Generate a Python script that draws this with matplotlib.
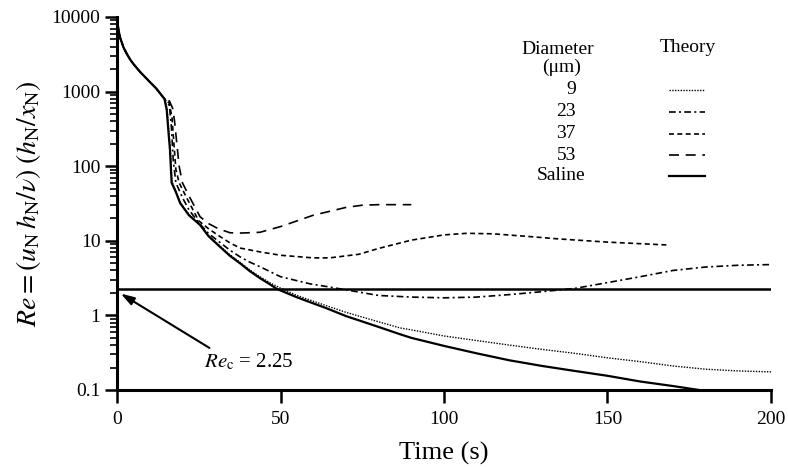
import numpy as np
import matplotlib
matplotlib.use("Agg")
import matplotlib.pyplot as plt
from matplotlib.lines import Line2D

plt.rcParams['font.family'] = ['Liberation Serif', 'DejaVu Serif']
plt.rcParams['mathtext.fontset'] = 'stix'

# shared early part (all runs coincide before the collapse)
t_early = [0, 0.5, 1, 2, 3, 4, 5, 7, 10, 12, 14.5]
re_early = [9500, 6500, 5200, 3900, 3200, 2700, 2350, 1850, 1350, 1100, 800]

# saline
t_sal = [15.2, 15.7, 16.2, 16.7, 18, 19.3, 22, 25.4, 28, 31.5, 34.5, 37.6, 40.5, 43.7, 46.5, 49,
         55, 60, 64, 70, 80, 86.5, 90, 100, 110, 120, 130, 140, 150, 160, 170, 178]
re_sal = [570, 300, 165, 60, 45, 32, 22, 16.3, 11.5, 8.3, 6.3, 5.0, 3.95, 3.16, 2.65, 2.25,
          1.75, 1.45, 1.25, 0.98, 0.7, 0.56, 0.5, 0.39, 0.31, 0.25, 0.21, 0.18, 0.155, 0.13, 0.113, 0.1]

# 9 um
t_9 = [15.3, 15.8, 16.3, 16.8, 18, 19.3, 22, 25.4, 28, 31.5, 34.5, 37.6, 40.5, 43.7, 47, 50,
       55, 60, 64, 70, 80, 86.5, 90, 100, 110, 120, 130, 140, 150, 160, 170, 180, 190, 200]
re_9 = [600, 320, 170, 62, 46, 33, 22.5, 16.6, 11.8, 8.5, 6.5, 5.15, 4.1, 3.3, 2.7, 2.32,
        1.85, 1.55, 1.35, 1.1, 0.82, 0.68, 0.64, 0.53, 0.46, 0.4, 0.35, 0.31, 0.27, 0.24, 0.21, 0.19, 0.18, 0.175]

# 23 um
t_23 = [16, 16.6, 17.2, 18, 20, 22, 25, 28, 31.5, 34.5, 37.6, 40.5, 43.7, 50, 59, 65, 70, 80,
        90, 100, 110, 120, 130, 140, 150, 160, 170, 180, 190, 200]
re_23 = [650, 350, 120, 60, 38, 26, 17.5, 12.5, 9.5, 7.5, 6.1, 5.2, 4.5, 3.3, 2.65, 2.4, 2.2, 1.85,
         1.76, 1.72, 1.76, 1.9, 2.08, 2.3, 2.75, 3.3, 4.0, 4.45, 4.7, 4.8]

# 37 um
t_37 = [16, 16.8, 17.4, 18, 19, 21, 25, 28, 31.5, 34.5, 37.6, 43.7, 50, 60, 65, 74, 80, 90,
        100, 107, 115, 125, 135, 150, 168]
re_37 = [700, 450, 200, 90, 60, 40, 18.5, 14.5, 11.4, 9.4, 8.0, 7.1, 6.4, 5.9, 5.9, 6.6, 7.9, 10.2,
         12.0, 12.6, 12.4, 11.5, 10.6, 9.6, 8.8]

# 53 um
t_53 = [16, 17, 17.6, 18.3, 19, 20, 22, 25.4, 28, 31, 34.6, 38, 43.7, 50, 60, 70, 75, 80, 90]
re_53 = [750, 600, 400, 200, 100, 60, 40, 21, 17, 14.5, 12.8, 12.7, 13, 15.5, 22, 28, 30, 30.5, 30.5]

re_crit = 2.25
t_range = [0, 200]

series = [
    ("9", t_9, re_9, (0, (1, 1)), 1.0),
    ("23", t_23, re_23, (0, (4, 2, 1.2, 2)), 1.2),
    ("37", t_37, re_37, (0, (3, 2)), 1.2),
    ("53", t_53, re_53, (0, (6, 4)), 1.2),
    ("Saline", t_sal, re_sal, '-', 1.6),
]

fig = plt.figure(figsize=(7.88, 4.67), dpi=100)
ax = fig.add_axes([0.1485, 0.1649, 0.8299, 0.7987])

for name, t, re, ls, lw in series:
    ax.plot(t_early + t, re_early + re, color='black', linestyle=ls, linewidth=lw)

ax.plot(t_range, [re_crit, re_crit], color='black', linewidth=1.8)

ax.set_yscale('log')
ax.set_xlim(0, 200)
ax.set_ylim(0.1, 10000)
ax.set_xticks([0, 50, 100, 150, 200])
ax.set_yticks([0.1, 1, 10, 100, 1000, 10000])
ax.set_yticklabels(['0.1', '1', '10', '100', '1000', '10000'])
ax.tick_params(axis='both', which='major', direction='out', length=9, width=1.8, labelsize=14)
ax.tick_params(axis='y', which='minor', direction='out', length=5, width=1.2)
ax.tick_params(axis='y', which='major', pad=3)
ax.tick_params(axis='x', which='major', pad=6)
for side in ['top', 'right']:
    ax.spines[side].set_visible(False)
for side in ['left', 'bottom']:
    ax.spines[side].set_linewidth(2.2)

ax.set_xlabel('Time (s)', fontsize=19, labelpad=10)
ax.set_ylabel(r'$Re = (u_\mathrm{N}\,h_\mathrm{N}/\nu)\;(h_\mathrm{N}/x_\mathrm{N})$', fontsize=20, labelpad=6)

ax.annotate('', xy=(0.4, 2.05), xytext=(29, 0.35),
            arrowprops=dict(arrowstyle='-|>,head_length=0.8,head_width=0.25', color='black', lw=1.5))
ax.text(26.5, 0.24, r'$Re_\mathrm{c}$ = 2.25', fontsize=15, va='center', ha='left')

# legend drawn as a little table
def fx(px):
    return px / 788

def fy(py):
    return 1 - py / 467

fig.text(fx(558), fy(49), 'Diameter', fontsize=14, ha='center', va='center')
fig.text(fx(562), fy(67), '(μm)', fontsize=14, ha='center', va='center')
fig.text(fx(688), fy(48), 'Theory', fontsize=14, ha='center', va='center')
rows_y = [90, 112, 134, 155, 176]
for (name, t, re, ls, lw), py in zip(series, rows_y):
    if name == 'Saline':
        fig.text(fx(561), fy(py), name, fontsize=14, ha='center', va='center')
    else:
        fig.text(fx(576), fy(py), name, fontsize=14, ha='right', va='center')
    fig.add_artist(Line2D([fx(669), fx(705)], [fy(py), fy(py)], color='black',
                          linestyle=ls, linewidth=lw, transform=fig.transFigure))

fig.savefig('out.png', dpi=100)
